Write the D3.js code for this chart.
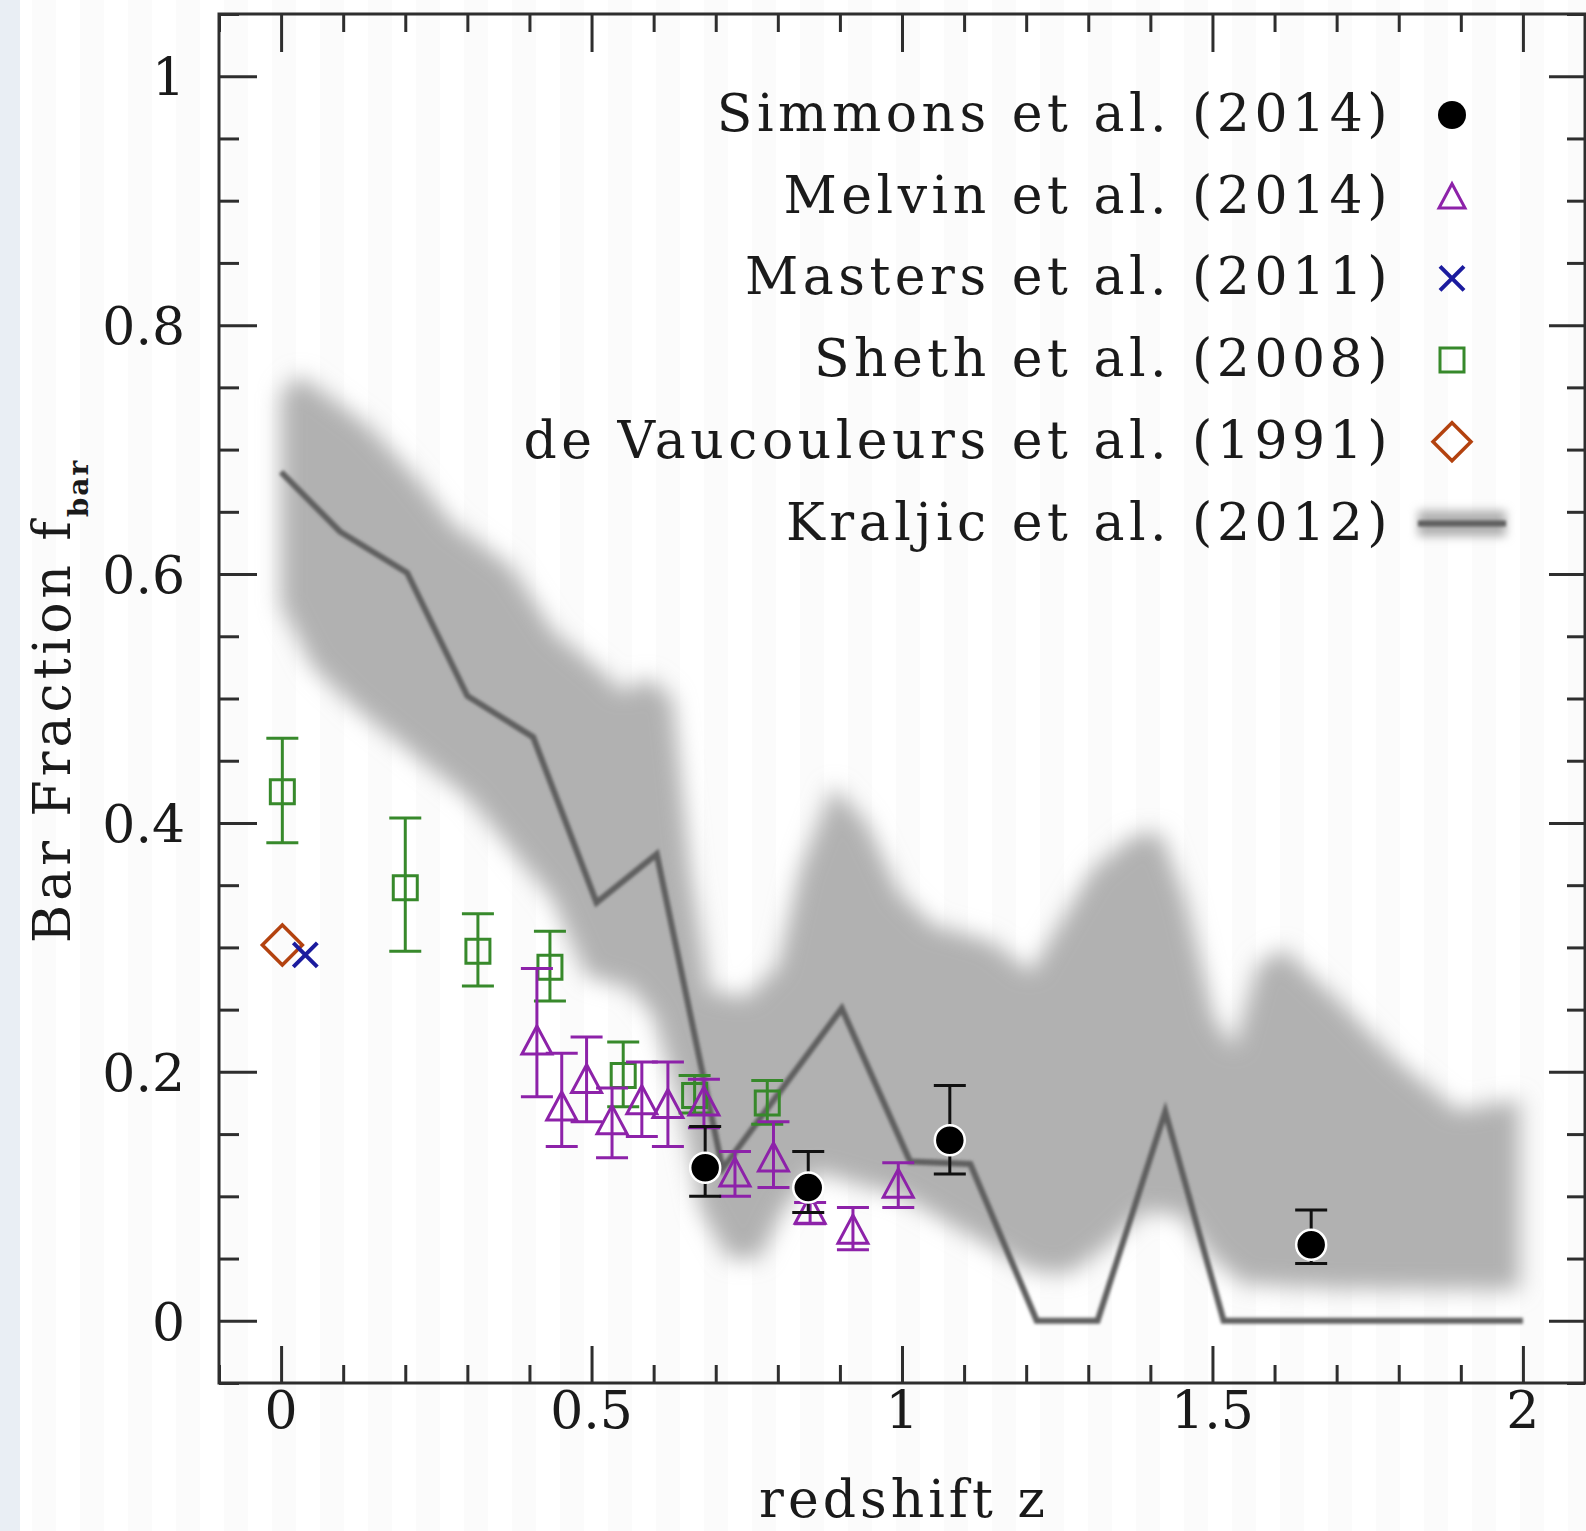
<!DOCTYPE html>
<html>
<head>
<meta charset="utf-8">
<script src="https://cdn.jsdelivr.net/npm/d3@7"></script>
<style>
  html, body { margin: 0; padding: 0; background: #ffffff; }
  svg { display: block; }
  text { font-family: "DejaVu Serif", "Liberation Serif", serif; fill: #1a1a1a; }
</style>
</head>
<body>
<svg id="chart" width="1586" height="1531"></svg>
<script>
// ---- data -----------------------------------------------------------
// Kraljic et al. (2012): median bar fraction and its scatter band
const kraljicLine = [
  [0.0, 0.682], [0.095, 0.634], [0.203, 0.601], [0.3, 0.502], [0.406, 0.469],
  [0.508, 0.336], [0.605, 0.375], [0.711, 0.122], [0.903, 0.251], [1.013, 0.128],
  [1.11, 0.126], [1.217, 0.0], [1.315, 0.0], [1.424, 0.168], [1.518, 0.0], [2.0, 0.0]
];
const kraljicUpper = [
  [0.0, 0.745], [0.03, 0.76], [0.138, 0.72], [0.213, 0.68], [0.277, 0.64],
  [0.37, 0.606], [0.44, 0.553], [0.52, 0.52], [0.55, 0.505], [0.59, 0.517],
  [0.63, 0.5], [0.66, 0.36], [0.69, 0.265], [0.75, 0.26], [0.8, 0.285],
  [0.836, 0.362], [0.889, 0.43], [0.943, 0.4], [0.997, 0.343], [1.05, 0.318],
  [1.143, 0.305], [1.208, 0.28], [1.26, 0.324], [1.306, 0.362], [1.372, 0.39],
  [1.417, 0.392], [1.456, 0.34], [1.502, 0.244], [1.535, 0.219], [1.573, 0.286],
  [1.613, 0.299], [1.697, 0.26], [1.795, 0.21], [1.894, 0.169], [1.995, 0.178]
];
const kraljicLower = [
  [1.995, 0.025], [1.7, 0.026], [1.55, 0.03], [1.5, 0.05], [1.45, 0.085],
  [1.39, 0.088], [1.33, 0.06], [1.27, 0.038], [1.21, 0.04], [1.14, 0.06],
  [1.07, 0.08], [1.0, 0.1], [0.93, 0.11], [0.86, 0.12], [0.81, 0.09],
  [0.77, 0.05], [0.72, 0.05], [0.675, 0.09], [0.64, 0.18], [0.6, 0.245],
  [0.56, 0.268], [0.492, 0.277], [0.438, 0.338], [0.385, 0.37], [0.304, 0.419],
  [0.224, 0.451], [0.116, 0.494], [0.05, 0.526], [0.0, 0.575]
];

// Each point: [z, fbar, lower, upper]
const sheth = [
  [0.002, 0.425, 0.384, 0.468], [0.2, 0.348, 0.297, 0.404], [0.317, 0.297, 0.269, 0.327],
  [0.433, 0.284, 0.257, 0.313], [0.551, 0.197, 0.172, 0.224], [0.666, 0.181, 0.167, 0.197],
  [0.783, 0.175, 0.158, 0.193]
];
const melvin = [
  [0.412, 0.223, 0.18, 0.283], [0.452, 0.17, 0.14, 0.215], [0.492, 0.192, 0.16, 0.228],
  [0.533, 0.159, 0.131, 0.187], [0.581, 0.175, 0.148, 0.208], [0.623, 0.172, 0.14, 0.208],
  [0.681, 0.174, 0.155, 0.194], [0.731, 0.117, 0.1, 0.136], [0.793, 0.129, 0.107, 0.16],
  [0.852, 0.087, 0.078, 0.095], [0.921, 0.071, 0.057, 0.091], [0.994, 0.108, 0.091, 0.127]
];
const simmons = [
  [0.683, 0.123, 0.1, 0.156], [0.849, 0.107, 0.087, 0.136],
  [1.077, 0.145, 0.118, 0.189], [1.659, 0.061, 0.046, 0.089]
];
const masters = [[0.039, 0.294]];
const deVaucouleurs = [[0.002, 0.302]];

const legendLabels = [
  "Simmons et al. (2014)", "Melvin et al. (2014)", "Masters et al. (2011)",
  "Sheth et al. (2008)", "de Vaucouleurs et al. (1991)", "Kraljic et al. (2012)"
];
const xTickValues = [0, 0.5, 1, 1.5, 2];
const xTickLabels = ["0", "0.5", "1", "1.5", "2"];
const yTickValues = [0, 0.2, 0.4, 0.6, 0.8, 1];
const yTickLabels = ["0", "0.2", "0.4", "0.6", "0.8", "1"];

// ---- setup ----------------------------------------------------------
const W = 1586, H = 1531;
const frame = { left: 219, right: 1585, top: 14, bottom: 1383 };
const colors = {
  sheth: "#37892b", melvin: "#8d22a9", masters: "#1b1b9e", deV: "#b3420f",
  band: "#b1b1b1", line: "#5e5e5e", axis: "#2e2e2e"
};

const svg = d3.select("#chart");
const x = d3.scaleLinear().domain([-0.1, 2.1]).range([frame.left, frame.right]);
const y = d3.scaleLinear().domain([-0.05, 1.05]).range([frame.bottom, frame.top]);

const defs = svg.append("defs");
function blurFilter(id, sd) {
  defs.append("filter").attr("id", id)
    .attr("filterUnits", "userSpaceOnUse").attr("x", 0).attr("y", 0).attr("width", W).attr("height", H)
    .append("feGaussianBlur").attr("stdDeviation", sd);
}
blurFilter("bandBlur", 11);
blurFilter("lineBlur", 1.4);
blurFilter("legBlur", 5);

// page background: side strip and faint vertical banding
svg.append("rect").attr("width", W).attr("height", H).attr("fill", "#ffffff");
svg.append("rect").attr("width", 20).attr("height", H).attr("fill", "#e9eef4");
const stripeStarts = d3.range(32, W, 48);
svg.append("g").selectAll("rect").data(stripeStarts).join("rect")
  .attr("x", d => d).attr("y", 0).attr("width", 24).attr("height", H)
  .attr("fill", "#fbfbfb");

// ---- Kraljic band and median line -----------------------------------
const bandPts = kraljicUpper.concat(kraljicLower);
svg.append("path")
  .attr("d", d3.line().x(d => x(d[0])).y(d => y(d[1]))(bandPts) + "Z")
  .attr("fill", colors.band)
  .attr("filter", "url(#bandBlur)");

svg.append("path")
  .attr("d", d3.line().x(d => x(d[0])).y(d => y(d[1]))(kraljicLine))
  .attr("fill", "none").attr("stroke", colors.line).attr("stroke-width", 6)
  .attr("stroke-linejoin", "miter").attr("filter", "url(#lineBlur)");

// ---- frame and ticks ------------------------------------------------
const majorX = xTickValues;
const minorX = d3.range(-0.1, 2.1001, 0.1).filter(v => !majorX.some(m => Math.abs(m - v) < 1e-6));
const majorY = yTickValues;
const minorY = d3.range(-0.05, 1.0501, 0.05).filter(v => !majorY.some(m => Math.abs(m - v) < 1e-6));

function ticks(axisFn, scale, vals, len, tr) {
  const g = svg.append("g").attr("transform", tr)
    .call(axisFn(scale).tickValues(vals).tickSize(-len).tickFormat(""));
  g.select(".domain").remove();
  g.selectAll("line").attr("stroke", colors.axis).attr("stroke-width", 3);
}
ticks(d3.axisBottom, x, majorX, 37, `translate(0,${frame.bottom})`);
ticks(d3.axisBottom, x, minorX, 18, `translate(0,${frame.bottom})`);
ticks(d3.axisTop, x, majorX, 38, `translate(0,${frame.top})`);
ticks(d3.axisTop, x, minorX, 18, `translate(0,${frame.top})`);
ticks(d3.axisLeft, y, majorY, 38, `translate(${frame.left},0)`);
ticks(d3.axisLeft, y, minorY, 20, `translate(${frame.left},0)`);
ticks(d3.axisRight, y, majorY, 36, `translate(${frame.right},0)`);
ticks(d3.axisRight, y, minorY, 18, `translate(${frame.right},0)`);

svg.append("rect")
  .attr("x", frame.left).attr("y", frame.top)
  .attr("width", frame.right - frame.left).attr("height", frame.bottom - frame.top)
  .attr("fill", "none").attr("stroke", colors.axis).attr("stroke-width", 3);

// tick labels
svg.append("g").selectAll("text").data(xTickValues).join("text")
  .attr("x", d => x(d)).attr("y", 1428)
  .attr("text-anchor", "middle").attr("font-size", 52)
  .text((d, i) => xTickLabels[i]);
svg.append("g").selectAll("text").data(yTickValues).join("text")
  .attr("x", 185).attr("y", d => y(d) + 19)
  .attr("text-anchor", "end").attr("font-size", 52)
  .text((d, i) => yTickLabels[i]);

// axis titles
svg.append("text")
  .attr("x", (frame.left + frame.right) / 2 + 2).attr("y", 1517)
  .attr("text-anchor", "middle").attr("font-size", 52).attr("letter-spacing", 4)
  .text("redshift z");
const yt = svg.append("text")
  .attr("transform", "translate(70,943) rotate(-90)")
  .attr("font-size", 52).attr("letter-spacing", 4);
yt.append("tspan").text("Bar Fraction f");
yt.append("tspan").attr("font-size", 28).attr("font-weight", "bold")
  .attr("letter-spacing", 2).attr("dy", 18).text("bar");

// ---- markers --------------------------------------------------------
function errorBars(data, color, cap) {
  const g = svg.append("g").attr("stroke", color).attr("stroke-width", 3).attr("fill", "none");
  data.forEach(d => {
    g.append("line").attr("x1", x(d[0])).attr("x2", x(d[0])).attr("y1", y(d[2])).attr("y2", y(d[3]));
    g.append("line").attr("x1", x(d[0]) - cap).attr("x2", x(d[0]) + cap).attr("y1", y(d[2])).attr("y2", y(d[2]));
    g.append("line").attr("x1", x(d[0]) - cap).attr("x2", x(d[0]) + cap).attr("y1", y(d[3])).attr("y2", y(d[3]));
  });
}
const squarePath = s => `M${-s},${-s}H${s}V${s}H${-s}Z`;
const trianglePath = s => `M0,${-s * 1.15}L${s},${s * 0.72}L${-s},${s * 0.72}Z`;
const diamondPath = s => `M0,${-s}L${s},0L0,${s}L${-s},0Z`;
const crossPath = s => `M${-s},${-s}L${s},${s}M${-s},${s}L${s},${-s}`;

// Sheth et al. (2008)
errorBars(sheth, colors.sheth, 16);
svg.append("g").selectAll("path").data(sheth).join("path")
  .attr("transform", d => `translate(${x(d[0])},${y(d[1])})`)
  .attr("d", squarePath(12)).attr("fill", "none")
  .attr("stroke", colors.sheth).attr("stroke-width", 3);

// Melvin et al. (2014)
errorBars(melvin, colors.melvin, 16);
svg.append("g").selectAll("path").data(melvin).join("path")
  .attr("transform", d => `translate(${x(d[0])},${y(d[1])})`)
  .attr("d", trianglePath(15)).attr("fill", "none")
  .attr("stroke", colors.melvin).attr("stroke-width", 3);

// Simmons et al. (2014)
errorBars(simmons, "#111111", 16);
svg.append("g").selectAll("circle").data(simmons).join("circle")
  .attr("cx", d => x(d[0])).attr("cy", d => y(d[1])).attr("r", 15)
  .attr("fill", "#000000").attr("stroke", "#ffffff").attr("stroke-width", 2.5);

// de Vaucouleurs et al. (1991)
svg.append("g").selectAll("path").data(deVaucouleurs).join("path")
  .attr("transform", d => `translate(${x(d[0])},${y(d[1])})`)
  .attr("d", diamondPath(20)).attr("fill", "none")
  .attr("stroke", colors.deV).attr("stroke-width", 3.5);

// Masters et al. (2011)
svg.append("g").selectAll("path").data(masters).join("path")
  .attr("transform", d => `translate(${x(d[0])},${y(d[1])})`)
  .attr("d", crossPath(12)).attr("fill", "none")
  .attr("stroke", colors.masters).attr("stroke-width", 4);

// ---- legend ---------------------------------------------------------
const legX = 1452, legTextX = 1392, legY0 = 115, legStep = 81.7;
const leg = svg.append("g");
leg.selectAll("text").data(legendLabels).join("text")
  .attr("x", legTextX).attr("y", (d, i) => legY0 + i * legStep + 16)
  .attr("text-anchor", "end").attr("font-size", 52).attr("letter-spacing", 4.5)
  .text(d => d);

const ly = i => legY0 + i * legStep;
leg.append("circle").attr("cx", legX).attr("cy", ly(0)).attr("r", 14).attr("fill", "#000");
leg.append("path").attr("transform", `translate(${legX},${ly(1) + 2})`)
  .attr("d", trianglePath(13)).attr("fill", "none").attr("stroke", colors.melvin).attr("stroke-width", 3);
leg.append("path").attr("transform", `translate(${legX},${ly(2)})`)
  .attr("d", crossPath(12)).attr("fill", "none").attr("stroke", colors.masters).attr("stroke-width", 4);
leg.append("path").attr("transform", `translate(${legX},${ly(3)})`)
  .attr("d", squarePath(12)).attr("fill", "none").attr("stroke", colors.sheth).attr("stroke-width", 3);
leg.append("path").attr("transform", `translate(${legX},${ly(4)})`)
  .attr("d", diamondPath(19)).attr("fill", "none").attr("stroke", colors.deV).attr("stroke-width", 3.5);
leg.append("rect").attr("x", 1418).attr("y", ly(5) - 13).attr("width", 88).attr("height", 26)
  .attr("fill", colors.band).attr("filter", "url(#legBlur)");
leg.append("line").attr("x1", 1418).attr("x2", 1506).attr("y1", ly(5)).attr("y2", ly(5))
  .attr("stroke", colors.line).attr("stroke-width", 6).attr("filter", "url(#lineBlur)");
</script>
</body>
</html>
